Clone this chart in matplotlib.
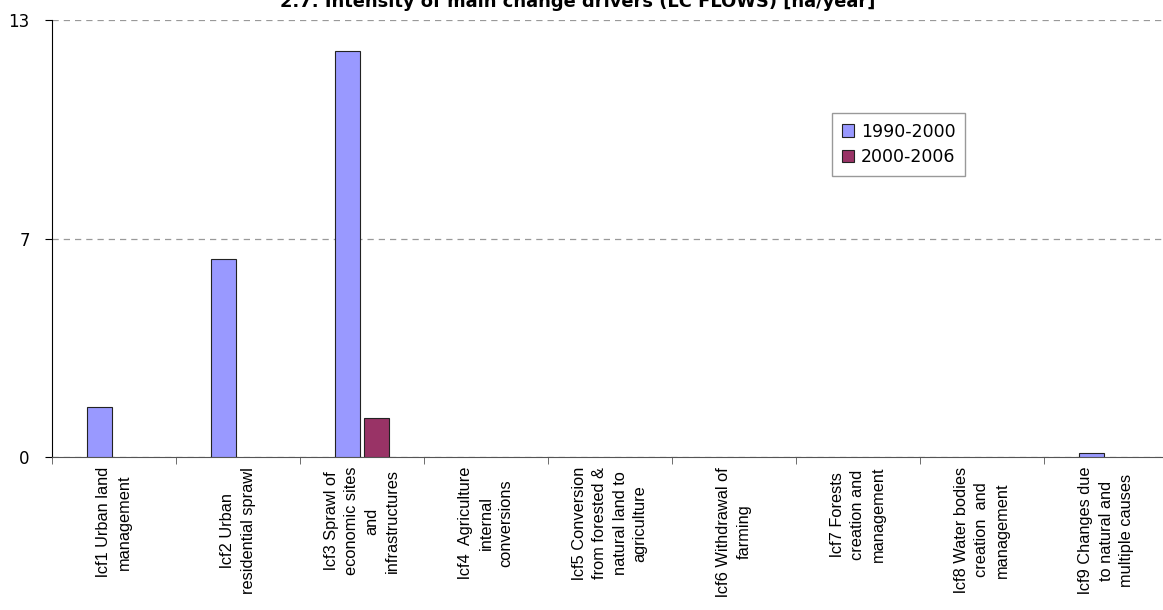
import numpy as np
import matplotlib.pyplot as plt

categories = [
    "lcf1 Urban land\nmanagement",
    "lcf2 Urban\nresidential sprawl",
    "lcf3 Sprawl of\neconomic sites\nand\ninfrastructures",
    "lcf4  Agriculture\ninternal\nconversions",
    "lcf5 Conversion\nfrom forested &\nnatural land to\nagriculture",
    "lcf6 Withdrawal of\nfarming",
    "lcf7 Forests\ncreation and\nmanagement",
    "lcf8 Water bodies\ncreation  and\nmanagement",
    "lcf9 Changes due\nto natural and\nmultiple causes",
]
flows_1990_2000 = np.array([1.48, 5.9, 12.08, 0, 0, 0, 0, 0, 0.11])
flows_2000_2006 = np.array([0, 0, 1.17, 0, 0, 0, 0, 0, 0])
series_names = ["1990-2000", "2000-2006"]
y_ticks = [0, 6.5, 13]
y_tick_labels = ["0", "7", "13"]

fig = plt.figure(figsize=(11.63, 6.10), dpi=100)
ax = fig.add_axes([0.0447, 0.2508, 0.9596, 0.7164])

x = np.arange(len(categories))
w = 0.2
for vals, off, col, name in [(flows_1990_2000, -0.12, "#9999FF", series_names[0]),
                             (flows_2000_2006, 0.12, "#993366", series_names[1])]:
    m = vals > 0
    ax.bar(x[m] + off, vals[m], width=w, color=col, edgecolor="#222222",
           linewidth=0.8, label=name, zorder=3)

ax.set_xlim(-0.5, len(categories) - 0.5)
ax.set_ylim(0, 13)

ax.set_yticks(y_ticks)
ax.set_yticklabels(y_tick_labels, fontsize=12)
ax.yaxis.grid(True, linestyle=(0, (5, 4)), color="#999999", linewidth=0.9)
ax.tick_params(axis="y", length=5, direction="out", pad=11)

ax.set_xticks(x)
ax.set_xticklabels(categories, rotation=90, fontsize=11.8, family="Liberation Sans",
                   ha="center", va="top", multialignment="center", linespacing=1.42)
ax.tick_params(axis="x", length=0, pad=7)
ax.set_xticks(np.arange(len(categories) + 1) - 0.5, minor=True)
ax.tick_params(axis="x", which="minor", length=5, direction="out", color="#555555")

for s in ["top", "right"]:
    ax.spines[s].set_visible(False)
ax.spines["left"].set_color("black")
ax.spines["bottom"].set_color("#555555")

leg = ax.legend(loc="upper left", bbox_to_anchor=(0.699, 0.787), borderaxespad=0,
                fontsize=12.5, handlelength=0.7, handleheight=0.7, handletextpad=0.4,
                fancybox=False, edgecolor="#999999", framealpha=1, borderpad=0.55,
                labelspacing=0.45)
leg.get_frame().set_linewidth(1.0)

fig.text(0.497, 0.9885, "2.7. Intensity of main change drivers (LC FLOWS) [ha/year]",
         ha="center", va="baseline", fontsize=12.9, fontweight="bold")

fig.savefig("out.png", dpi=100)
